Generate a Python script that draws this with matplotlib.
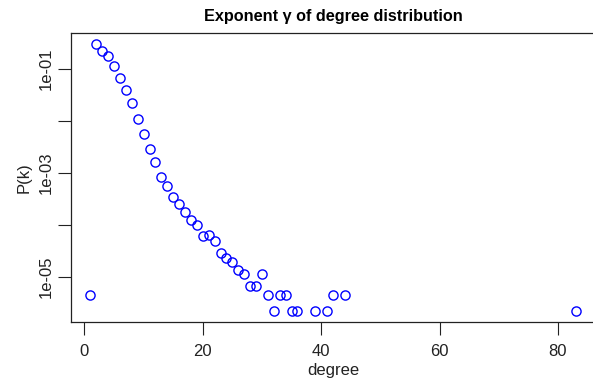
#!/usr/bin/env python3
# -*- coding: utf-8 -*-
"""Degree distribution on a log y axis, R base-graphics look."""

import numpy as np
import matplotlib
matplotlib.use('Agg')
import matplotlib.pyplot as plt

plt.rcParams['font.family'] = ['Liberation Sans', 'DejaVu Sans']

# values
degree = [1, 2, 3, 4, 5, 6, 7, 8, 9, 10, 11, 12, 13, 14, 15, 16, 17, 18, 19,
          20, 21, 22, 23, 24, 25, 26, 27, 28, 29, 30, 31, 32, 33, 34, 35, 36,
          39, 41, 42, 44, 83]
pk = [4.5e-6, 0.30, 0.215, 0.178, 0.112, 0.067, 0.038, 0.022, 0.0107, 0.0056,
      0.0029, 0.0016, 8.4e-4, 5.6e-4, 3.36e-4, 2.57e-4, 1.78e-4, 1.25e-4,
      1.0e-4, 6.1e-5, 6.3e-5, 4.9e-5, 2.85e-5, 2.35e-5, 1.96e-5, 1.34e-5,
      1.13e-5, 6.8e-6, 6.8e-6, 1.13e-5, 4.5e-6, 2.2e-6, 4.5e-6, 4.5e-6,
      2.2e-6, 2.2e-6, 2.2e-6, 2.2e-6, 4.5e-6, 4.5e-6, 2.2e-6]

xticks = [0, 20, 40, 60, 80]
yticks = [1e-1, 1e-2, 1e-3, 1e-4, 1e-5]
ytick_labels = ['1e-01', '', '1e-03', '', '1e-05']

W, H = 593, 378
fig = plt.figure(figsize=(W / 100, H / 100), dpi=100)
ax = fig.add_axes([71 / W, 1 - 322 / H, (595 - 71) / W, (322 - 33) / H])

ax.plot(degree, pk, 'o', mfc='none', mec='#0000FF', ms=6.6, mew=1.0,
        clip_on=False)
ax.set_yscale('log')

# R style 4% padding
x0, x1 = min(degree), max(degree)
dx = 0.04 * (x1 - x0)
ax.set_xlim(x0 - dx, x1 + dx)
l0, l1 = np.log10(min(pk)), np.log10(max(pk))
dl = 0.04 * (l1 - l0)
ax.set_ylim(10 ** (l0 - dl), 10 ** (l1 + dl))

ax.set_xticks(xticks)
ax.set_yticks(yticks)
ax.set_yticklabels(ytick_labels, rotation=90, va='center')
ax.minorticks_off()
ax.tick_params(axis='both', length=9.5, width=0.8, color='#222222',
               labelsize=12, labelcolor='#222222', pad=3)
ax.tick_params(axis='x', pad=6)

for s in ax.spines.values():
    s.set_linewidth(0.9)
    s.set_color('#222222')

ax.set_xlabel('degree', fontsize=12, color='#222222', labelpad=3)
ax.set_ylabel('P(k)', fontsize=12, color='#222222', labelpad=5)
fig.text(333 / W, 1 - 16 / H, 'Exponent γ of degree distribution',
         ha='center', va='center', fontsize=11.7, fontweight='bold')

fig.savefig('out.png', dpi=100, facecolor='white')
plt.close(fig)
